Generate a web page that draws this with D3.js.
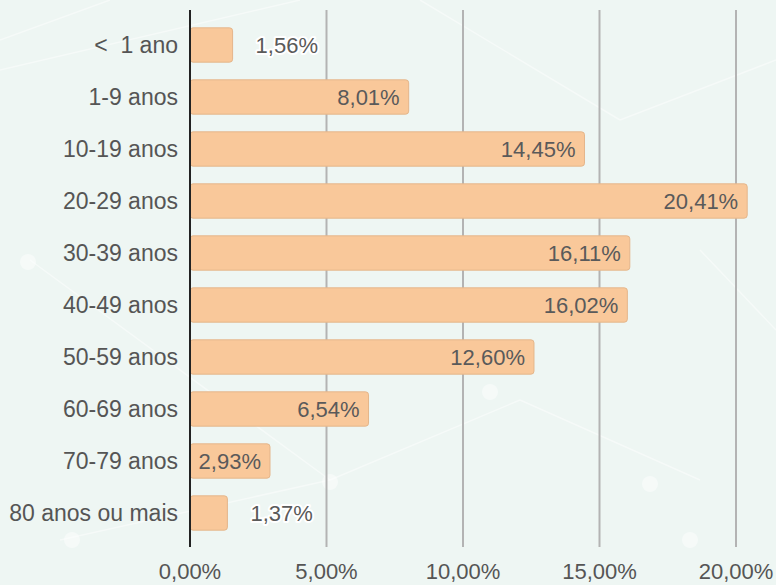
<!DOCTYPE html>
<html><head><meta charset="utf-8">
<script src="https://cdn.jsdelivr.net/npm/d3@7"></script>
<style>
html,body{margin:0;padding:0;background:#eef6f3;}
svg{display:block;font-family:"Liberation Sans",Arial,sans-serif;}
</style></head>
<body><svg id="c" width="776" height="585"></svg>
<script>
const categories = ["<  1 ano","1-9 anos","10-19 anos","20-29 anos","30-39 anos","40-49 anos","50-59 anos","60-69 anos","70-79 anos","80 anos ou mais"];
const values = [1.56, 8.01, 14.45, 20.41, 16.11, 16.02, 12.60, 6.54, 2.93, 1.37];
const ticks = [0, 5, 10, 15, 20];

const fmt = v => v.toFixed(2).replace(".", ",") + "%";
const svg = d3.select("#c");
const W = 776, H = 585;

// faint decorative background
const bg = svg.append("g");
bg.append("rect").attr("width", W).attr("height", H).attr("fill", "#eef6f3");
const deco = [[0,40,110,0],[0,70,300,0],[30,260,330,480],[330,480,520,400],[520,400,700,480],[700,250,776,330],[60,540,330,480],[420,0,620,120],[620,120,776,60]];
bg.selectAll("line").data(deco).join("line")
  .attr("x1", d => d[0]).attr("y1", d => d[1]).attr("x2", d => d[2]).attr("y2", d => d[3])
  .attr("stroke", "#ffffff").attr("stroke-opacity", 0.45).attr("stroke-width", 1.5);
const dots = [[28,262],[330,482],[490,392],[650,484],[72,540],[690,540]];
bg.selectAll("circle").data(dots).join("circle")
  .attr("cx", d => d[0]).attr("cy", d => d[1]).attr("r", 8)
  .attr("fill", "#ffffff").attr("fill-opacity", 0.45);

const x = d3.scaleLinear().domain([0, 20]).range([190, 736]);
const y = d3.scaleBand().domain(categories).range([19, 539]).paddingInner(0.34).paddingOuter(0.17);

// gridlines
svg.append("g").selectAll("line").data(ticks.slice(1)).join("line")
  .attr("x1", d => x(d)).attr("x2", d => x(d)).attr("y1", 10).attr("y2", 547)
  .attr("stroke", "#b3b3b3").attr("stroke-width", 2);

// bars
svg.append("g").selectAll("rect").data(values).join("rect")
  .attr("x", x(0)).attr("y", (d, i) => y(categories[i]))
  .attr("width", d => x(d) - x(0)).attr("height", y.bandwidth())
  .attr("rx", 3).attr("fill", "#f9c89a").attr("stroke", "#e4b68b").attr("stroke-width", 1);

// value labels
const lab = svg.append("g").attr("font-size", 22).attr("fill", "#5a5a5a");
values.forEach((v, i) => {
  const cy = y(categories[i]) + y.bandwidth() / 2;
  const inside = (x(v) - x(0)) > 75;
  const t = lab.append("text").attr("y", cy).attr("dy", "0.36em").text(fmt(v));
  if (inside) {
    t.attr("x", x(v) - 9).attr("text-anchor", "end");
  } else {
    t.attr("x", x(v) + 23).attr("text-anchor", "start")
     .attr("stroke", "#ffffff").attr("stroke-width", 4).attr("stroke-linejoin", "round")
     .attr("paint-order", "stroke");
  }
});

// category axis
svg.append("line").attr("x1", x(0)).attr("x2", x(0)).attr("y1", 10).attr("y2", 547)
  .attr("stroke", "#222").attr("stroke-width", 2);
svg.append("g").attr("font-size", 23).attr("fill", "#555").attr("text-anchor", "end")
  .selectAll("text").data(categories).join("text")
  .attr("x", 178).attr("y", d => y(d) + y.bandwidth() / 2).attr("dy", "0.36em")
  .attr("xml:space", "preserve").style("white-space", "pre").text(d => d);

// x tick labels
svg.append("g").attr("font-size", 22).attr("fill", "#555").attr("text-anchor", "middle")
  .selectAll("text").data(ticks).join("text")
  .attr("x", d => x(d)).attr("y", 579).text(d => fmt(d));
</script></body></html>
